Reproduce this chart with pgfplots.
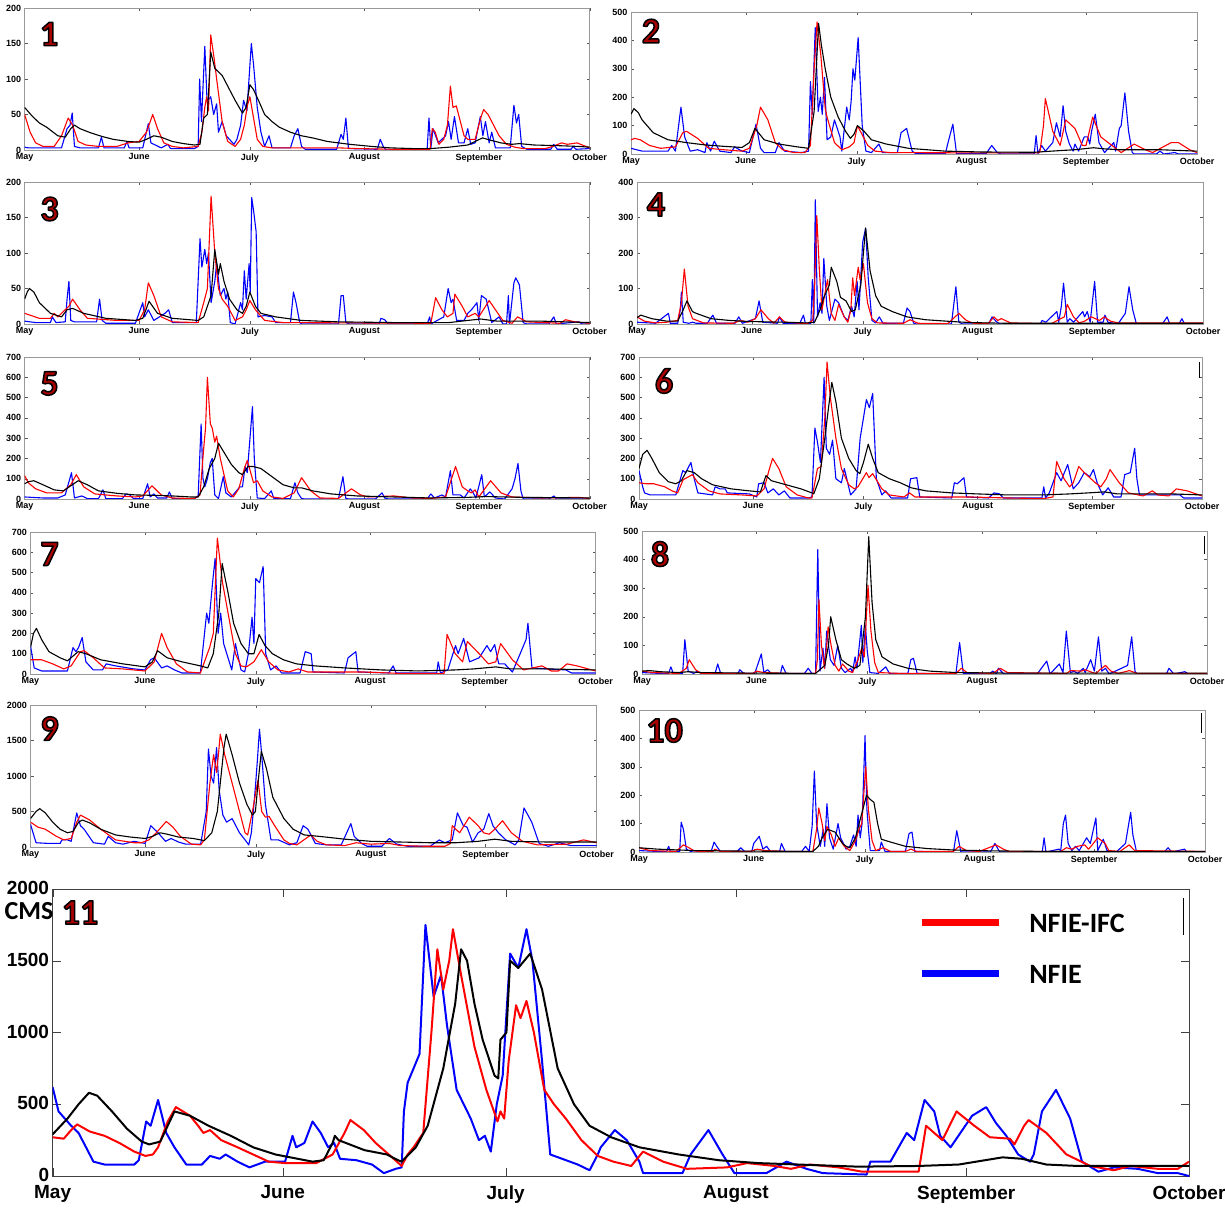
\documentclass[border=0pt]{standalone}
\usepackage{fontspec}
\setmainfont{Liberation Sans}
\newfontfamily\calib{Carlito}
\usepackage{pgfplots}
\pgfplotsset{compat=1.18}

\pgfplotsset{
  panel/.style={
    scale only axis, width=565pt, height=142pt, anchor=south west,
    xmin=0, xmax=153, ymin=0,
    xtick={0,31,61,92,123,153},
    xticklabels={May,June,July,August,September,October},
    tick align=inside, xtick pos=both, ytick pos=both,
    xticklabel pos=lower, yticklabel pos=left,
    major tick length=3pt,
    axis line style={gray!80}, tick style={gray!70!black},
    ticklabel style={font=\fontsize{9}{10}\selectfont\bfseries},
    /pgf/number format/1000 sep={},
    /pgf/number format/assume math mode=true,
    every axis plot/.append style={line width=1.1pt, line join=round},
  },
}
% panel number: dark red glyphs with a black outline (fill+stroke render mode)
\newcommand\plabel[3]{%
  \node[inner sep=0pt] at (#1,#2) {\special{pdf:literal direct 0.667 0 0 rg 0 0 0 RG 1 j 1.5 w 2 Tr}%
    \calib\bfseries\fontsize{36}{36}\selectfont #3%
    \special{pdf:literal direct 0 Tr 0 g 0 G 0.3985 w 0 j}};}

\begin{document}
\begin{tikzpicture}[x=1pt,y=1pt]
\path[use as bounding box] (0,0) rectangle (1225,1210);

% ---------- 1 ----------
\begin{axis}[panel, at={(24.6pt,1060pt)}, ymax=200, ytick={0,50,100,150,200}]
\addplot[blue] coordinates {(0,4)(1,3)(5,3)(10,3)(11.5,30)(12.3,35)(12.9,52)(13.5,5)(15,3)(20,3)(20.8,18)(21.5,3)(27,3)(27.7,12)(28.3,3)(32,3)(33.5,37)(34.2,10)(35,8)(37,3)(38.8,8)(39.5,2)(46,2)(47,5)(47.4,100)(47.9,40)(48.8,146)(49.4,70)(50,72)(50.4,75)(51.2,50)(52,65)(52.5,25)(53.5,40)(54.6,20)(56.7,8)(57.5,15)(58.5,35)(59.3,70)(60.2,55)(61.4,150)(62,120)(63,60)(64,25)(65,5)(66.2,20)(67,3)(72,3)(73,20)(74,30)(75,5)(76,1)(84.5,1)(85.7,22)(86.3,15)(87,45)(87.7,2)(95.5,1)(96.3,15)(97.3,3)(98,0)(109,0)(109.5,45)(110,2)(110.6,30)(112,10)(114,20)(114.8,40)(115.5,15)(116.4,47)(117.5,10)(119,10)(120,30)(120.8,8)(122,10)(123.4,47)(124.1,20)(124.8,40)(125.8,10)(126.5,25)(127.5,3)(131.5,3)(132.5,63)(133.2,38)(133.8,50)(134.6,5)(136,1)(142.5,1)(143.3,8)(144.2,1)(148,1)(148.5,5)(149.3,1)(153,2)};
\addplot[red] coordinates {(0,50)(1.5,25)(3,10)(5,5)(8,5)(10,20)(11.8,45)(13,35)(14.5,12)(16.6,7)(20,5)(25,5)(28,10)(31,12)(33,25)(34.7,50)(36,30)(37.7,10)(40,5)(43,3)(47,5)(48,25)(48.8,60)(49.3,75)(49.8,55)(50.4,162)(51.3,130)(52,100)(53.5,40)(55,12)(57,5)(58.5,15)(59.5,35)(60.3,62)(61,75)(62,45)(63,15)(64.5,5)(67,3)(80,3)(85,3)(90,2)(100,1)(109.8,1)(110.4,30)(111.2,25)(112.2,8)(113.5,15)(114.5,35)(115.3,90)(116,60)(116.9,62)(118,40)(119,20)(120,15)(122,15)(123.5,45)(124.3,57)(125.5,50)(127,35)(128.5,20)(130.5,8)(132.7,4)(135,2)(141,2)(143,5)(145.4,10)(147,8)(149.6,10)(151.5,6)(153,3)};
\addplot[black] coordinates {(0,60)(2,48)(4,38)(6,32)(9,20)(11,18)(12.5,30)(13.5,35)(15,30)(18,24)(21,19)(24,15)(28,12)(31,11)(33,15)(35,20)(37,18)(40,12)(43,9)(46,7)(47.5,8)(48.5,45)(49.5,50)(50.4,138)(51.5,115)(52.5,110)(53.5,105)(55,90)(57,70)(59,52)(60,60)(61,92)(62,85)(63.5,68)(65,50)(67,40)(69,32)(72,25)(75,20)(78,17)(82,12)(88,8)(94,5)(99,3)(105,2)(110,2)(115,4)(120,7)(122,12)(124,17)(126,14)(129,10)(132,8)(134,9)(138,7)(145,6)(150,5)(153,4)};
\end{axis}

% ---------- 2 ----------
\begin{axis}[panel, at={(631pt,1056pt)}, width=566pt, ymax=500, ytick={0,100,...,500}]
\addplot[blue] coordinates {(0,20)(3,10)(10,10)(11,30)(12,10)(13.5,165)(14.5,60)(16,10)(18,15)(20,5)(20.5,40)(21.5,10)(22.5,45)(24,10)(27,5)(28,25)(30,10)(32,5)(33.8,105)(35,20)(36,5)(39,5)(40,40)(41.5,10)(46,5)(48,10)(48.5,255)(49,140)(49.8,445)(50.6,150)(51.2,200)(51.7,140)(52.3,270)(53,50)(54,60)(55,120)(56.5,60)(57,10)(58.3,165)(59,120)(59.5,185)(60,300)(60.5,260)(61.4,410)(62.5,100)(63.5,10)(65,5)(67,35)(68,5)(72,5)(73,75)(74.5,90)(76,10)(77,1)(85,1)(85.5,30)(87,105)(88,1)(96,1)(97.5,30)(99,5)(100,0)(109,0)(109.5,65)(110,1)(111,30)(112,10)(114,40)(115,110)(116,60)(116.8,170)(117.5,80)(118.5,35)(119.5,10)(120,35)(121,10)(122.5,60)(123.5,60)(124,35)(124.5,80)(125.5,140)(126.5,40)(128,5)(130.5,40)(131,10)(132,90)(132.5,100)(133.5,215)(134.5,80)(135.5,5)(136,0)(142,0)(143,10)(144,0)(147,5)(148,0)(153,0)};
\addplot[red] coordinates {(0,50)(1,55)(2.5,50)(5,30)(8,20)(12,25)(14,75)(15,80)(18,55)(21,20)(25,15)(30,10)(32,20)(34,100)(35,165)(37,120)(39,40)(41,15)(44,5)(47,5)(48.5,30)(49.5,300)(50.3,465)(51.3,350)(52.5,160)(53,130)(55,40)(57,15)(59,25)(60.3,40)(61.2,100)(62,80)(64,30)(66,10)(70,5)(90,4)(110,4)(110.5,5)(111.5,100)(112,195)(112.8,150)(114,80)(116,30)(117.5,120)(120,90)(122,30)(123,30)(124.8,130)(127,60)(131,20)(132.5,5)(136,35)(139,15)(141,5)(146,40)(148,40)(151,15)(153,5)};
\addplot[black] coordinates {(0,140)(0.8,160)(2,145)(3,120)(6,75)(10,50)(15,40)(20,32)(25,27)(30,23)(32,40)(33.5,90)(36,50)(40,35)(45,25)(48,20)(49.5,150)(50,280)(50.7,460)(51.5,380)(52.5,300)(54,200)(56,130)(58,80)(59.3,55)(60.3,70)(61.2,100)(63,80)(65,50)(69,35)(75,20)(85,10)(95,7)(109,6)(116,12)(120,15)(125,22)(128,18)(132,15)(143,15)(153,10)};
\end{axis}

% ---------- 3 ----------
\begin{axis}[panel, at={(24.6pt,886pt)}, ymax=200, ytick={0,50,100,150,200}]
\addplot[blue] coordinates {(0,4)(3,2)(7,2)(7.5,10)(8.5,2)(11,3)(11.5,35)(12,60)(12.5,5)(13.5,3)(19.5,3)(20.3,35)(21,5)(22,1)(30,1)(32,30)(32.5,10)(33.5,20)(35,5)(38,15)(39,20)(40,2)(46.5,2)(47.5,120)(48,80)(48.8,105)(49.3,85)(49.8,100)(50.5,30)(51.5,60)(52,85)(53,40)(54,50)(54.5,35)(55,45)(55.7,2)(57,0)(58.5,30)(59,20)(59.5,75)(60,35)(60.8,85)(61.1,45)(61.5,178)(62,160)(62.7,130)(63.2,10)(65,12)(67,10)(68,2)(72,2)(72.8,45)(73.5,30)(74.5,2)(75,0)(85,0)(85.7,40)(86.3,40)(87,2)(88,0)(96,0)(96.5,8)(97.5,6)(98.5,0)(109,0)(109.7,10)(110,0)(113.5,10)(114.7,50)(115.5,30)(116,35)(117,5)(119,5)(120,15)(121,20)(122.5,30)(123,5)(123.7,40)(125,35)(126.5,2)(128.5,10)(129.5,0)(130.5,0)(131,40)(131.3,0)(132.5,58)(133,65)(134,55)(135,2)(136,0)(142,0)(143.3,10)(144,0)(150,3)(151,0)(153,0)};
\addplot[red] coordinates {(0,15)(4,8)(7,8)(8,15)(9,10)(12,25)(13,35)(15,20)(17,8)(25,5)(31,5)(32.5,20)(33.5,58)(35,40)(37,10)(40,3)(47,2)(48.5,30)(49.5,50)(50.5,180)(51.5,100)(52.5,50)(53.5,35)(55,25)(57,5)(59,10)(60,20)(61,33)(62.5,20)(65,5)(70,2)(110,1)(111.3,37)(113,20)(114.5,10)(116,15)(116.5,42)(118.5,25)(120,10)(122,15)(123,10)(125.8,33)(127.5,20)(129.5,5)(132,1)(133.5,10)(136,3)(145,1)(146.5,6)(149,3)(153,1)};
\addplot[black] coordinates {(0,35)(0.7,45)(1.3,50)(2.5,45)(4,30)(7,15)(10,10)(11.5,20)(13,22)(16,15)(22,8)(30,5)(32,8)(33.7,32)(36,15)(40,8)(47,5)(48.5,10)(50.5,40)(51.5,105)(52.5,70)(53,85)(54,60)(55.5,35)(57.5,20)(59,15)(60,25)(61,45)(62.5,25)(64,15)(68,10)(75,5)(85,3)(100,2)(115,2)(120,5)(123.5,7)(128,4)(140,4)(153,2)};
\end{axis}

% ---------- 4 ----------
\begin{axis}[panel, at={(637pt,886pt)}, width=566pt, ymax=400, ytick={0,100,...,400}]
\addplot[blue] coordinates {(0,5)(5,2)(8.5,30)(9,2)(11,2)(11.7,40)(12,90)(12.5,5)(14,2)(15,5)(16,2)(19,2)(20.5,25)(21.5,2)(26.5,2)(27.5,20)(28.5,2)(32,15)(33,65)(34,5)(38,2)(38.5,20)(39.5,2)(44,2)(45,25)(45.5,2)(47,2)(47.4,125)(47.8,2)(48.2,350)(48.8,20)(49.5,60)(50,30)(50.5,185)(51.3,50)(52,10)(53.5,70)(54.5,60)(56,20)(57,10)(58,50)(58.7,20)(59.5,120)(60,40)(61,230)(61.8,270)(62.5,130)(63.5,10)(64.5,3)(65.5,20)(66.5,2)(72,2)(73,45)(73.8,35)(74.8,2)(75.5,0)(85,0)(86.2,105)(87,5)(88,0)(95,0)(96,20)(97,8)(98,0)(109,0)(109.5,10)(110.5,5)(113.5,35)(114,5)(114.7,50)(115.3,115)(116.3,5)(117,15)(118,5)(120.5,35)(121,20)(121.7,35)(122.5,5)(123.7,120)(124.5,5)(126,5)(126.5,25)(127.3,5)(130,0)(132,30)(133,105)(134,40)(135,0)(142,0)(143.3,20)(144,0)(146.5,0)(147.3,15)(148,0)(153,0)};
\addplot[red] coordinates {(0,20)(2,8)(5,3)(8,5)(11,10)(12,60)(12.8,155)(13.8,50)(15,15)(18,3)(26,2)(28,10)(30,5)(32,15)(33.5,40)(35.5,15)(37,2)(38.5,20)(40,5)(46,1)(47.5,10)(48,100)(48.6,305)(49.3,150)(50,40)(50.7,80)(51.5,125)(52.5,30)(53.5,10)(54.5,55)(56,20)(57,5)(57.8,40)(58.3,130)(58.8,80)(59.8,160)(60.3,125)(61.2,170)(62.3,60)(63.5,15)(65,3)(72,2)(73.8,12)(76,2)(84,1)(87,30)(89,10)(91,2)(95,2)(96.5,20)(97.5,10)(98.5,15)(101,3)(112,1)(115.5,20)(116.3,55)(118,20)(119.5,3)(121,8)(122.8,20)(125,10)(126.3,20)(128,8)(130,3)(153,3)};
\addplot[black] coordinates {(0,18)(1,25)(4,15)(8,8)(11,8)(12.5,40)(13.5,65)(15,35)(16,30)(20,15)(25,10)(30,7)(40,5)(46,3)(48,5)(49.5,40)(50.5,75)(52,110)(52.5,160)(54,120)(55,75)(56.5,65)(58,35)(59,40)(60.5,110)(61.2,200)(61.8,270)(63,150)(64.5,80)(66,50)(69,35)(73,20)(78,12)(85,7)(90,4)(100,2)(153,2)};
\end{axis}

% ---------- 5 ----------
\begin{axis}[panel, at={(24.6pt,711pt)}, ymax=700, ytick={0,100,...,700}]
\addplot[blue] coordinates {(0,10)(5,5)(9,5)(11,20)(12.7,130)(13.5,5)(15.5,15)(17,2)(20,2)(21.2,45)(22,2)(26.5,2)(27.5,25)(28.5,20)(29.5,2)(32,2)(33.3,75)(34,10)(35,25)(36,5)(38.5,5)(39.2,35)(40,2)(46,2)(47,15)(47.8,370)(48.3,100)(48.8,60)(49.5,100)(50.3,180)(50.8,200)(51.5,20)(52.5,2)(53.8,110)(54.5,30)(56,10)(58.3,60)(59,60)(59.7,160)(60.3,130)(61.7,455)(62.2,200)(63,5)(65,2)(66.8,40)(67.5,2)(72,2)(73.2,80)(74,30)(75,2)(76,0)(85,0)(86.2,110)(87,2)(88,0)(95,0)(96.8,30)(97.5,5)(98.5,0)(109,0)(110,25)(111,5)(113,20)(114,10)(115.3,140)(116,20)(118,20)(119,5)(120.7,50)(121.5,30)(122.2,5)(123.8,120)(124.5,10)(126,35)(127.5,5)(130,0)(132,50)(132.8,100)(133.6,175)(134.4,40)(135,0)(142,0)(143.4,15)(144,0)(153,0)};
\addplot[red] coordinates {(0,115)(1,80)(3,50)(6,30)(10,30)(12.5,70)(14,120)(16,60)(19,25)(25,15)(30,10)(32,15)(34.5,65)(37,20)(40,5)(46,2)(47.5,20)(48.5,250)(49,350)(49.5,600)(50.3,370)(50.8,350)(51.5,280)(52,310)(53,200)(55,40)(56.5,10)(58,50)(59.5,150)(60.3,190)(62,80)(63,90)(64.5,40)(67,10)(70,3)(73,30)(75,105)(77.5,40)(80,5)(85,3)(88.5,50)(91,20)(93,10)(100,15)(105,5)(110,3)(114,10)(116.7,160)(118.5,60)(120,40)(121,30)(122,45)(123,10)(126.2,90)(129,30)(132,10)(140,5)(150,8)(153,3)};
\addplot[black] coordinates {(0,75)(1,85)(2.5,90)(5,70)(8,45)(10.5,40)(12.5,65)(14.5,90)(17,70)(20,40)(25,28)(30,20)(35,18)(40,15)(45,10)(47,10)(48.5,60)(50,150)(51.5,200)(52.5,275)(54,230)(56,170)(58,130)(59,120)(60.5,160)(62,160)(64,150)(67,110)(70,70)(73,55)(75,55)(78,40)(83,25)(90,15)(100,10)(110,5)(120,8)(125,12)(135,8)(153,5)};
\end{axis}

% ---------- 6 ----------
\begin{axis}[panel, at={(639pt,711pt)}, width=563pt, ymax=700, ytick={0,100,...,700}]
\addplot[blue] coordinates {(0,140)(1,60)(1.5,30)(3,20)(10,20)(11.9,140)(12.7,130)(14.1,180)(15,100)(16,30)(20,20)(20.7,60)(22,50)(23.4,50)(24,30)(30,25)(32,10)(32.5,75)(34,80)(35,30)(36.5,50)(38,20)(39.5,40)(41,5)(46,5)(47,10)(47.8,350)(48.5,280)(49.3,180)(50.3,600)(50.9,250)(51.8,220)(52.6,290)(53.5,100)(55,80)(55.8,150)(57.5,20)(59,50)(60.1,300)(61,400)(61.8,490)(62.6,450)(63.5,520)(64.5,100)(66,20)(67,40)(68.5,5)(73,5)(73.8,100)(75.5,105)(76.3,10)(85,5)(85.7,80)(86.5,75)(88.3,105)(89,10)(95,5)(96.5,30)(98,25)(99,5)(109.5,5)(110,60)(110.5,5)(111.5,30)(113.5,130)(114.7,90)(116.5,170)(118,50)(119.5,80)(121,130)(122.5,110)(123.5,145)(124.5,80)(126,20)(127.5,55)(129,10)(131,10)(132,120)(133.5,130)(134.7,250)(135.3,100)(136,20)(140,20)(147,20)(148,5)(153,5)};
\addplot[red] coordinates {(0,80)(2,75)(4,75)(7,60)(9,40)(10.5,30)(12,95)(13,105)(14.5,120)(16,80)(19,40)(22,25)(28,20)(32,15)(34,50)(35.3,140)(36.3,200)(38,150)(40,60)(43,20)(46,5)(47,5)(48.5,150)(49.5,160)(50.5,400)(51.1,675)(52,500)(53.5,300)(55,150)(57,70)(58.5,50)(59.5,60)(61.8,130)(62.5,105)(63.5,125)(66,50)(68,20)(72,10)(73.5,30)(75,10)(90,10)(100,5)(110,2)(112.5,10)(113.5,185)(115.5,100)(117,60)(118,80)(119.5,160)(121,130)(124,80)(125.5,60)(127,100)(128,145)(130.5,80)(133,30)(137,15)(139.5,40)(141,20)(144,15)(146,50)(149,40)(153,15)};
\addplot[black] coordinates {(0,150)(1,220)(2.2,240)(3.5,200)(5.5,130)(8,85)(10,75)(11.5,90)(13,140)(15,130)(17,100)(20,70)(25,50)(30,40)(33,35)(34.5,115)(36,90)(40,70)(44,50)(47,30)(47.5,25)(49,100)(50.5,300)(51.5,450)(52.4,575)(53.5,480)(55,300)(57,200)(59,140)(60,125)(61,180)(62.3,270)(63.5,200)(65,130)(68,100)(71,80)(74,55)(78,40)(85,30)(92,25)(100,20)(110,20)(117,25)(122,30)(126.5,35)(130,25)(136,25)(145,25)(153,20)};
\draw[black, line width=1pt] (axis description cs:0.996,0.965) -- (axis description cs:0.996,0.852);
\end{axis}

% ---------- 7 ----------
\begin{axis}[panel, at={(30.5pt,536pt)}, ymax=700, ytick={0,100,...,700}]
\addplot[blue] coordinates {(0,140)(1,30)(3,15)(10,15)(11.5,130)(12.3,110)(13,130)(14,180)(15,60)(17,20)(19.5,20)(20.5,50)(23,40)(28,25)(31,20)(32.5,70)(33.5,80)(35.5,30)(37,40)(39,20)(41,5)(46,5)(47.7,300)(48.3,250)(49.3,450)(50,570)(50.8,200)(51.5,300)(52.3,150)(54.5,20)(55.5,150)(57,20)(58,10)(59,100)(60,280)(60.5,150)(61,470)(62,450)(63,530)(63.7,100)(65,20)(66.5,40)(68,5)(73,5)(74.4,110)(76,100)(76.5,10)(85,5)(86,80)(88.1,110)(88.7,10)(97,5)(98.2,40)(99,5)(110,5)(110.4,60)(111,5)(113,20)(115.1,140)(115.8,100)(117.3,175)(118.9,60)(121.5,80)(123.6,140)(124.6,110)(125.7,145)(126.8,50)(128.4,50)(130.5,10)(132.6,100)(134.2,170)(134.7,250)(135.8,30)(140,25)(145,20)(146.5,5)(153,5)};
\addplot[red] coordinates {(0,70)(3,70)(6,50)(9,25)(11,40)(13.5,110)(14.5,115)(17,80)(20,30)(25,25)(31,15)(33.5,60)(35.5,200)(37,130)(39.5,50)(42.5,10)(46,5)(48.5,130)(49.5,200)(50.6,670)(52,450)(54,250)(55.5,100)(57,40)(58.5,35)(60.5,60)(62.5,120)(64.5,60)(67,20)(70,10)(72.5,25)(75,10)(90,10)(100,3)(112,2)(112.8,195)(115,100)(117,60)(118.3,160)(121.5,100)(124,50)(126,60)(127.3,150)(130.5,70)(133.5,20)(138.5,40)(141,15)(143,15)(145.3,50)(148,40)(153,15)};
\addplot[black] coordinates {(0,130)(0.8,200)(1.6,225)(3,170)(5,110)(8,80)(10,65)(12.9,110)(15,100)(19,70)(25,50)(31,35)(33,60)(34.4,115)(37,80)(41,60)(46,40)(48,30)(49.5,100)(51,300)(51.9,545)(53.5,400)(55,250)(57,150)(59,100)(60.5,100)(61.9,195)(63.5,140)(65.5,100)(68.5,70)(72,50)(77,40)(85,30)(95,20)(105,15)(115,20)(120,25)(126,35)(130,25)(140,25)(153,20)};
\end{axis}

% ---------- 8 ----------
\begin{axis}[panel, at={(642pt,536pt)}, height=143pt, ymax=500, ytick={0,100,...,500}]
\addplot[blue] coordinates {(0,5)(5,2)(7.2,2)(7.8,25)(8.5,2)(11,2)(11.6,120)(12.5,10)(14,2)(15,10)(16,2)(19.8,2)(20.5,35)(21.3,2)(26,2)(26.5,15)(27.5,2)(30.5,2)(31,20)(32.3,70)(33,5)(34,15)(35,2)(37.5,2)(38,30)(39,2)(44,2)(45,20)(46,2)(47,2)(47.6,435)(48.2,10)(49,90)(49.5,20)(50,150)(51,50)(52,30)(53,100)(54,20)(55,5)(56.5,20)(57,5)(57.7,60)(58.2,20)(59.4,170)(59.8,40)(60.5,170)(61,80)(61.7,5)(64,2)(66,25)(67,2)(72,2)(72.8,50)(73.5,55)(74.5,2)(85,0)(86,110)(87,2)(94,0)(95,10)(96,0)(96.5,20)(98,0)(107,0)(109.6,45)(110.5,0)(113,35)(114,5)(114.9,150)(116,5)(117,10)(118,2)(119.5,20)(120,5)(121.5,50)(122.5,10)(123.6,130)(124.5,10)(125.5,20)(126.5,0)(131.5,30)(132.6,130)(133.5,10)(134,0)(142,0)(142.7,20)(144,0)(147,8)(148,0)(153,0)};
\addplot[red] coordinates {(0,10)(3,5)(10,2)(12,20)(12.8,50)(14.5,15)(16,2)(30,2)(31,10)(33,5)(40,2)(47,2)(47.5,50)(47.9,260)(48.6,100)(49.4,20)(50,100)(50.4,165)(51.2,100)(52.3,30)(53.3,10)(54.3,35)(56,10)(57,5)(58.5,50)(59.5,90)(60.2,60)(61.2,310)(62,150)(63,40)(64,5)(70,2)(85,2)(86.5,20)(88,5)(95,2)(97,20)(99,5)(115,2)(116,12)(119,10)(120,15)(122,5)(123,2)(124,15)(125.5,30)(127,10)(129,2)(132,12)(134,2)(153,2)};
\addplot[black] coordinates {(0,10)(2,12)(5,8)(10,5)(12.5,8)(16,5)(30,3)(47,2)(49.5,30)(50.5,100)(51.1,200)(52.5,120)(54,50)(55.5,35)(57.5,20)(59,30)(60.5,200)(61.4,480)(62.3,250)(63.3,120)(65,60)(68,35)(72,20)(78,10)(85,5)(100,3)(153,3)};
\draw[black, line width=1pt] (axis description cs:0.995,0.965) -- (axis description cs:0.995,0.839);
\end{axis}

% ---------- 9 ----------
\begin{axis}[panel, at={(30.5pt,363pt)}, width=566pt, ymax=2000, ytick={0,500,...,2000}]
\addplot[blue] coordinates {(0,320)(1.5,60)(5,50)(8,50)(8.5,100)(10,100)(11,80)(12.5,480)(13.5,300)(14.5,250)(17,60)(20,40)(21,150)(23,60)(25,40)(28,80)(30,60)(31,50)(32.5,300)(34.5,200)(36.5,80)(38,120)(40,70)(42,40)(46,40)(47.5,500)(48.1,1380)(48.8,1000)(49.5,900)(50.3,1400)(51,800)(52,450)(53,350)(54.5,400)(56.5,200)(58,100)(59,30)(59.7,200)(60.4,600)(60.8,850)(61.3,1200)(61.9,1660)(62.5,1300)(63.5,600)(65,100)(67,100)(70,30)(72,60)(73.7,300)(75,250)(77,50)(80,30)(84,30)(86.6,330)(87.5,150)(89.5,50)(91,10)(95,10)(97,120)(99,40)(102,10)(108,10)(110.5,100)(112,60)(114,100)(115.4,480)(117,300)(118,280)(119.5,70)(121,200)(122.5,250)(123.9,470)(125,300)(126.5,200)(128.5,100)(131,30)(132,100)(133.4,550)(135.5,350)(137.5,50)(140,10)(143,60)(146,20)(153,20)};
\addplot[red] coordinates {(0,350)(2,280)(4,250)(7,150)(9,100)(11,120)(12.5,350)(13.5,450)(16,380)(19,250)(23,100)(28,60)(30,60)(32,100)(34,200)(36.7,360)(38.5,280)(40.5,150)(43.5,40)(46,30)(47,100)(48.5,900)(49.5,1300)(50.3,1050)(50.8,1300)(51.3,1590)(52.5,1300)(54,1000)(55.5,700)(57,400)(58,200)(58.7,170)(60,500)(61,800)(61.5,940)(62.5,500)(63.5,420)(64.5,430)(66,300)(68.5,100)(70,50)(72,30)(75.8,170)(77.5,80)(80,30)(85,20)(88,60)(92,40)(97,50)(100,20)(107,10)(112,10)(113.5,50)(114,300)(115,250)(116,200)(118.6,420)(121,300)(122.5,200)(124,180)(125.5,250)(127.6,370)(130,200)(133,80)(137,30)(145,40)(149.5,100)(153,60)};
\addplot[black] coordinates {(0,400)(1.5,500)(2.5,540)(4,480)(6,350)(8,250)(10,200)(11.5,220)(13,350)(14,380)(16,340)(19,250)(23,170)(27,140)(31,120)(33,150)(35,200)(37,180)(40,140)(44,120)(47,90)(49,200)(50.5,500)(51.5,1000)(52.3,1400)(52.9,1590)(54.5,1300)(56.5,900)(58.5,600)(60,450)(60.8,500)(61.5,900)(62.4,1350)(63.8,1100)(65.5,700)(68.5,400)(71,250)(74,170)(78,150)(85,110)(92,80)(100,70)(108,60)(115,60)(121,80)(125.5,110)(130,80)(140,70)(153,70)};
\end{axis}

% ---------- 10 ----------
\begin{axis}[panel, at={(639pt,358pt)}, width=566pt, ymax=500, ytick={0,100,...,500}]
\addplot[blue] coordinates {(0,5)(5,2)(7.5,2)(8,20)(8.5,2)(11,2)(11.4,105)(12,80)(12.8,10)(14,2)(15,5)(16,2)(19.5,2)(20.3,35)(21,20)(22,2)(26.5,2)(27.5,15)(28.5,2)(30.5,2)(31,30)(32.5,55)(33.5,10)(34.5,20)(35.5,2)(38,2)(38.5,30)(39.5,2)(44,2)(45,20)(46,2)(46.8,90)(47.4,285)(48,100)(49,20)(49.8,80)(50.2,20)(50.8,170)(51.5,50)(52.5,10)(53.8,100)(54.5,50)(56,10)(57,20)(58,60)(58.7,20)(59.2,130)(59.8,50)(60.3,100)(61.1,410)(61.6,150)(62.5,5)(65,5)(65.5,35)(66.5,2)(72,2)(73,65)(73.8,70)(74.5,2)(85,0)(85.9,75)(87,0)(95,0)(96.2,30)(97.5,0)(109,0)(109.5,50)(110,0)(113.5,10)(114,5)(114.7,100)(115.3,130)(116,30)(117,5)(118,20)(119,5)(121,50)(122,30)(123.5,120)(124,5)(125.5,45)(126.5,5)(129,0)(131.5,30)(132.9,140)(133.5,60)(134.5,0)(142,0)(143,15)(144,0)(147.5,10)(148,0)(153,0)};
\addplot[red] coordinates {(0,15)(3,5)(10,2)(12,25)(13.5,15)(15,3)(20,2)(20.5,10)(22,2)(30,2)(32,10)(34,5)(40,2)(47,2)(48,80)(48.6,155)(49.5,100)(50.2,40)(50.8,90)(52,60)(53,20)(54,50)(55.5,20)(57,5)(58.5,40)(59.5,80)(60.2,100)(61.3,300)(62,150)(63,40)(64,5)(66,15)(68,2)(72,2)(73.5,10)(75,2)(85,2)(86.5,20)(88.5,5)(92,2)(96.5,25)(98.5,10)(100,2)(114,2)(115.5,15)(117,10)(118.5,20)(120.5,25)(121.5,10)(122.5,25)(124,50)(126,30)(127,5)(130,2)(132.5,25)(134,5)(153,2)};
\addplot[black] coordinates {(0,15)(5,10)(15,5)(30,3)(47,2)(48.5,20)(49.5,50)(51,80)(53,70)(55,30)(56,20)(57,15)(58.5,50)(59.5,100)(60.5,150)(61.5,200)(62.5,185)(63.5,175)(64.5,100)(65.5,45)(68,35)(72,20)(78,12)(85,7)(95,4)(110,2)(153,2)};
\draw[black, line width=1pt] (axis description cs:0.994,0.979) -- (axis description cs:0.994,0.838);
\end{axis}

% ---------- 11 ----------
\begin{axis}[panel, at={(52.6pt,34pt)}, width=1136.4pt, height=287pt,
  ymax=2000, ytick={0,500,...,2000}, major tick length=8pt,
  axis line style={black!75}, tick style={black!75},
  ticklabel style={font=\fontsize{19}{20}\selectfont\bfseries},
  xticklabel style={yshift=-6pt}, yticklabel style={yshift=1pt},
  every axis plot/.append style={line width=2pt},
  legend image code/.code={\draw[#1, line width=7pt] (0pt,2pt) -- (77pt,2pt);},
  legend cell align=left,
  legend style={draw=none, fill=none, at={(axis description cs:0.7616,0.912)}, anchor=north west,
    font=\calib\bfseries\fontsize{28}{30}\selectfont, inner sep=0pt,
    nodes={inner sep=0pt}, row sep=31pt,
    /tikz/every odd column/.append style={column sep=27pt}}]
\addlegendimage{red}\addlegendentry{NFIE-IFC}
\addlegendimage{blue}\addlegendentry{NFIE}
\addplot[blue, forget plot] coordinates {(0,620)(0.8,450)(2.5,350)(3.5,300)(4.5,200)(5.5,100)(7,80)(11,80)(11.6,110)(12.6,380)(13.2,350)(14.2,530)(15.3,300)(16.4,200)(18,80)(20.1,80)(21.2,140)(22.5,120)(23.3,150)(24.9,100)(26.5,60)(28.6,100)(31.3,100)(32.3,280)(32.8,200)(33.9,230)(35,380)(36.1,300)(37.1,200)(37.9,230)(38.7,120)(40.9,110)(43,80)(44.6,20)(46.2,50)(47,60)(47.3,450)(47.8,650)(48.6,750)(49.4,850)(50.2,1750)(51.3,1250)(52.3,1400)(53.1,1050)(54.4,600)(56.3,400)(57.4,250)(58.2,280)(59,170)(59.8,500)(60.6,700)(61.6,1550)(62.7,1450)(63.8,1720)(64.6,1500)(65.9,800)(67,150)(68.6,120)(70.7,80)(72.3,40)(73.4,150)(73.8,200)(75.7,320)(77.3,250)(79,100)(79.5,20)(84.8,20)(85.9,150)(88.3,320)(90.2,150)(91.8,20)(96.1,20)(98.8,100)(101.5,50)(103.7,20)(109.6,10)(110.1,100)(112.8,100)(115,300)(116,250)(117.4,530)(118.7,450)(119.5,280)(120.9,200)(123.8,420)(125.7,480)(127,370)(128.4,280)(130,150)(131.6,100)(132.1,150)(133.2,450)(135.1,600)(137,400)(138.6,100)(140.8,30)(142.9,60)(146.1,50)(148.8,20)(151.5,20)(153,0)};
\addplot[red, forget plot] coordinates {(0,270)(1.5,260)(2.5,320)(3.3,360)(5,310)(7,280)(9,230)(11,170)(12.5,140)(13.5,150)(14.2,200)(15.5,380)(16.6,480)(18.5,420)(19.6,350)(20.3,300)(21.2,320)(22.7,250)(24.9,200)(27,150)(29.1,100)(31.3,90)(35.5,90)(37.7,150)(39.3,300)(40.1,390)(41.9,320)(43.5,230)(45.7,130)(47,70)(47.8,150)(48.6,200)(49.9,300)(51,1000)(51.8,1580)(52.6,1300)(53.4,1500)(53.9,1720)(55,1400)(56.8,900)(58.4,600)(59.9,380)(60.3,450)(60.8,400)(61.4,800)(62.4,1190)(63,1100)(63.8,1220)(64.8,1000)(66.2,600)(67.5,500)(69.1,400)(71.2,250)(73.4,140)(75.5,100)(77.9,70)(79.5,170)(82.2,100)(85.4,50)(90.8,60)(93.5,90)(97.2,70)(99.4,50)(102,80)(105.8,60)(109,30)(116.6,30)(117.6,350)(119.8,250)(121.7,450)(124.1,350)(126.2,270)(128.9,260)(129.5,220)(130.8,350)(131.4,390)(133.8,300)(136.5,150)(139.7,70)(142.9,40)(145.1,70)(148.8,50)(151.5,50)(153,100)};
\addplot[black, forget plot] coordinates {(0,290)(2,400)(3.5,500)(4.9,580)(6,560)(8,450)(10,330)(12,240)(13,220)(14.5,240)(15.5,350)(16.4,450)(18.5,420)(21,350)(24,280)(27,200)(30,150)(33,120)(35,100)(36.5,110)(37.7,230)(38,280)(38.5,250)(40,220)(42,180)(45,150)(46.5,110)(47,100)(48.9,200)(50.5,350)(52.6,750)(54.2,1200)(55,1580)(55.8,1500)(56.8,1200)(57.9,950)(59.5,700)(60,680)(60.3,950)(61.1,1000)(61.6,1500)(62.7,1450)(64.3,1550)(65.9,1300)(68,750)(70.2,500)(72.3,350)(75.2,270)(79,200)(84.3,150)(89.7,110)(95,90)(100.4,80)(108.5,65)(116.6,70)(122,80)(127.9,130)(130.5,120)(133.8,80)(138,70)(143.5,70)(153,70)};
\draw[black, line width=1pt] (axis description cs:0.995,0.969) -- (axis description cs:0.995,0.84);
\end{axis}

% panel numbers
\plabel{49}{1176}{1}
\plabel{651}{1179}{2}
\plabel{49.5}{1001}{3}
\plabel{656}{1005.5}{4}
\plabel{49.5}{826.5}{5}
\plabel{664}{829}{6}
\plabel{49.5}{656}{7}
\plabel{660}{656}{8}
\plabel{49.5}{481.5}{9}
\plabel{664.5}{479.5}{10}
\plabel{80}{297.5}{11}
\node[inner sep=0pt] at (29,299) {\calib\bfseries\fontsize{26}{26}\selectfont CMS};
\end{tikzpicture}
\end{document}
